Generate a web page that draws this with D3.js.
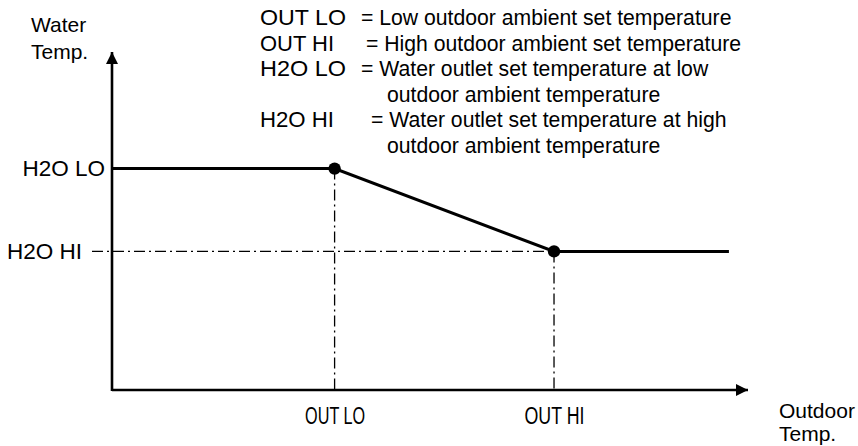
<!DOCTYPE html>
<html>
<head>
<meta charset="utf-8">
<script src="https://cdn.jsdelivr.net/npm/d3@7"></script>
<style>
  html, body { margin: 0; padding: 0; background: #ffffff; }
  svg { display: block; font-family: "Liberation Sans", Arial, sans-serif; }
</style>
</head>
<body>
<svg id="chart" width="858" height="446"></svg>
<script>
// Set points of the outdoor-reset water temperature curve (schematic units, 0-100)
const outdoorSetLabels = ["OUT LO", "OUT HI"];
const outdoorSetValues = [35, 69.5];
const waterSetLabels = ["H2O LO", "H2O HI"];
const waterSetValues = [65.5, 41];

// Curve vertices: flat at H2O LO, ramp down to H2O HI, then flat
const curveOutdoor = [0, 35, 69.5, 97];
const curveWater = [65.5, 65.5, 41, 41];

// Legend definitions
const legendKeys = ["OUT LO", "OUT HI", "H2O LO", "", "H2O HI", ""];
const legendText = [
  "= Low outdoor ambient set temperature",
  "= High outdoor ambient set temperature",
  "= Water outlet set temperature at low",
  "outdoor ambient temperature",
  "= Water outlet set temperature at high",
  "outdoor ambient temperature"
];

const svg = d3.select("#chart");
const x0 = 112, x1 = 748, yTop = 52, yBase = 390;

const x = d3.scaleLinear().domain([0, 100]).range([x0, x1]);
const y = d3.scaleLinear().domain([0, 100]).range([yBase, yTop]);

// Arrowhead marker
const defs = svg.append("defs");
defs.append("marker")
  .attr("id", "arrow")
  .attr("viewBox", "0 0 12 12")
  .attr("refX", 12).attr("refY", 6)
  .attr("markerWidth", 12).attr("markerHeight", 12)
  .attr("markerUnits", "userSpaceOnUse")
  .attr("orient", "auto")
  .append("path")
  .attr("d", "M0,0 L12,6 L0,12 Z")
  .attr("fill", "#000");

const dashDot = "11,4,2,4";

// Reference guides (dash-dot)
svg.append("line")
  .attr("x1", 92).attr("x2", x(outdoorSetValues[1]))
  .attr("y1", y(waterSetValues[1])).attr("y2", y(waterSetValues[1]))
  .attr("stroke", "#000").attr("stroke-width", 1.3)
  .attr("stroke-dasharray", dashDot);

outdoorSetValues.forEach((v, i) => {
  svg.append("line")
    .attr("x1", x(v)).attr("x2", x(v))
    .attr("y1", y(waterSetValues[i])).attr("y2", yBase)
    .attr("stroke", "#000").attr("stroke-width", 1.3)
    .attr("stroke-dasharray", dashDot);
});

// Axes with arrows
svg.append("line")
  .attr("x1", x0).attr("y1", yBase + 1).attr("x2", x0).attr("y2", yTop)
  .attr("stroke", "#000").attr("stroke-width", 2.6)
  .attr("marker-end", "url(#arrow)");
svg.append("line")
  .attr("x1", x0).attr("y1", yBase).attr("x2", x1).attr("y2", yBase)
  .attr("stroke", "#000").attr("stroke-width", 2.6)
  .attr("marker-end", "url(#arrow)");

// Tick labels via d3 axes (domain and tick lines hidden)
const yAxis = d3.axisLeft(y)
  .tickValues(waterSetValues)
  .tickFormat((d, i) => waterSetLabels[i])
  .tickSize(0).tickPadding(7);
const yG = svg.append("g").attr("transform", `translate(${x0},0)`).call(yAxis);
yG.select(".domain").remove();
yG.selectAll("text")
  .attr("font-family", "Liberation Sans, Arial, sans-serif")
  .attr("font-size", 22.5).attr("fill", "#000")
  .attr("dx", (d, i) => i === 1 ? -23 : 0);

const xAxis = d3.axisBottom(x)
  .tickValues(outdoorSetValues)
  .tickFormat((d, i) => outdoorSetLabels[i])
  .tickSize(0).tickPadding(18);
const xG = svg.append("g").attr("transform", `translate(0,${yBase})`).call(xAxis);
xG.select(".domain").remove();
xG.selectAll("text")
  .attr("font-family", "Liberation Sans, Arial, sans-serif")
  .attr("font-size", 23).attr("fill", "#000")
  .attr("textLength", 60).attr("lengthAdjust", "spacingAndGlyphs");

// Curve
const line = d3.line().x((d, i) => x(curveOutdoor[i])).y((d, i) => y(curveWater[i]));
svg.append("path")
  .datum(curveOutdoor)
  .attr("d", line)
  .attr("fill", "none").attr("stroke", "#000").attr("stroke-width", 3);

// Set-point markers
svg.selectAll("circle.setpt")
  .data(outdoorSetValues)
  .join("circle")
  .attr("class", "setpt")
  .attr("cx", d => x(d))
  .attr("cy", (d, i) => y(waterSetValues[i]))
  .attr("r", 6.2).attr("fill", "#000");

// Axis titles
const axTitle = svg.append("g").attr("font-size", 21).attr("fill", "#000");
axTitle.append("text").attr("x", 31).attr("y", 32).text("Water");
axTitle.append("text").attr("x", 31).attr("y", 59).text("Temp.");
axTitle.append("text").attr("x", 779).attr("y", 418).text("Outdoor");
axTitle.append("text").attr("x", 779).attr("y", 441).text("Temp.");

// Legend
const keyX = 260;
const keyLen = [86, 74, 86, 0, 74, 0];
const eqX = [361, 366, 361, 387, 371, 387];
const legend = svg.append("g").attr("font-size", 21.2).attr("fill", "#000");
legendKeys.forEach((k, i) => {
  const yy = 25 + i * 25.6;
  if (k) legend.append("text").attr("x", keyX).attr("y", yy)
    .attr("textLength", keyLen[i]).attr("lengthAdjust", "spacingAndGlyphs").text(k);
  legend.append("text").attr("x", eqX[i]).attr("y", yy).text(legendText[i]);
});
</script>
</body>
</html>
